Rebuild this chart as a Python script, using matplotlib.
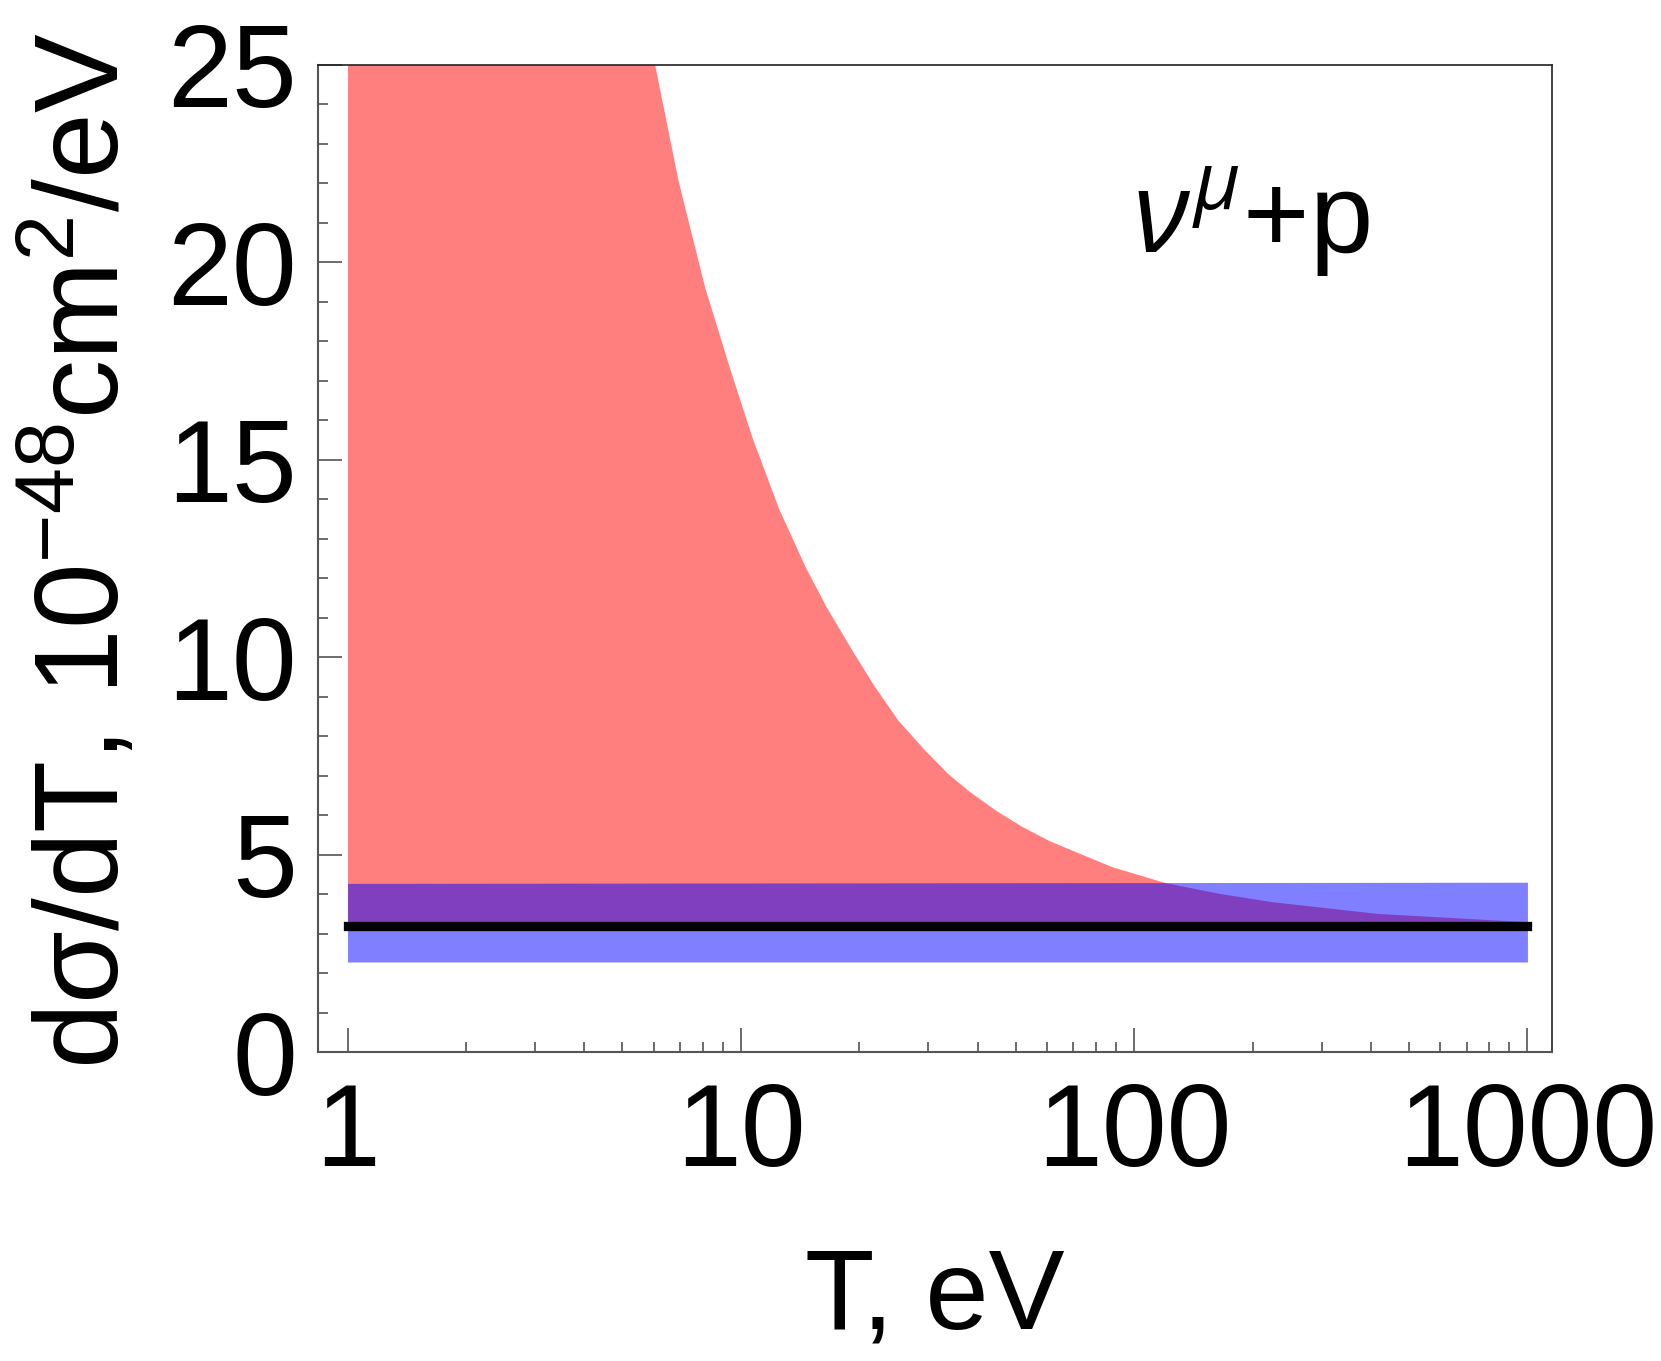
import numpy as np
import matplotlib
matplotlib.use("Agg")
import matplotlib.pyplot as plt
from matplotlib.ticker import FixedLocator, NullFormatter

plt.rcParams['font.family'] = ['Liberation Sans', 'DejaVu Sans']
plt.rcParams['mathtext.fontset'] = 'custom'
plt.rcParams['mathtext.rm'] = 'Liberation Sans'
plt.rcParams['mathtext.it'] = 'Open Sans:italic'
plt.rcParams['mathtext.bf'] = 'Liberation Sans:bold'

# ---- data ----
# upper edge of the red (theory uncertainty) band, T in eV
red_T = [1.0, 6.04, 6.92, 8.08, 9.32, 10.68, 12.48, 14.57, 16.49, 19.26, 21.8,
         25.1, 29.2, 33.6, 38.1, 44.5, 51.9, 60.6, 73.1, 88.0, 120, 164, 223,
         415, 1000]
red_hi = [25.0, 25.0, 22.08, 19.39, 17.38, 15.56, 13.76, 12.29, 11.27, 10.14,
          9.28, 8.40, 7.67, 7.05, 6.60, 6.12, 5.71, 5.36, 5.02, 4.69, 4.29,
          4.02, 3.81, 3.51, 3.30]
central_value = 3.19          # black line (central prediction)
central_T = [1.0, 1000.0]
central_y = [3.19, 3.19]
blue_T = [1.0, 1000.0]        # blue band
blue_lo = [2.28, 2.28]
blue_hi = [4.27, 4.30]

xticks = [1, 10, 100, 1000]
xticklabels = ['1', '10', '100', '1000']
xminor = [2, 3, 4, 5, 6, 7, 8, 9, 20, 30, 40, 50, 60, 70, 80, 90,
          200, 300, 400, 500, 600, 700, 800, 900]
yticks = [0, 5, 10, 15, 20, 25]
yticklabels = ['0', '5', '10', '15', '20', '25']
yminor = list(range(0, 26))

# ---- figure ----
fig = plt.figure(figsize=(16.61, 13.61), dpi=100)
ax = fig.add_axes([0.1913, 0.2270, 0.7431, 0.7255])

ax.fill_between(red_T, central_value, red_hi, color='red', alpha=0.5, lw=0)
ax.fill_between(blue_T, blue_lo, blue_hi, color='blue', alpha=0.5, lw=0)
ax.plot(central_T, central_y, color='black', lw=6.7, solid_capstyle='projecting')

ax.set_xscale('log')
ax.set_xlim(0.84, 1155)
ax.set_ylim(0, 25)

ax.xaxis.set_major_locator(FixedLocator(xticks))
ax.set_xticklabels(xticklabels)
ax.xaxis.set_minor_locator(FixedLocator(xminor))
ax.xaxis.set_minor_formatter(NullFormatter())
ax.yaxis.set_major_locator(FixedLocator(yticks))
ax.set_yticklabels(yticklabels)
ax.yaxis.set_minor_locator(FixedLocator(yminor))

tc = '#444444'
ax.tick_params(which='both', direction='in', top=False, right=False, color=tc,
               width=1.1, labelsize=84)
ax.tick_params(which='major', length=17.5)
ax.tick_params(which='minor', length=7)
ax.tick_params(axis='x', which='major', pad=21)
ax.tick_params(axis='y', which='major', pad=15)

for s in ['left', 'bottom']:
    ax.spines[s].set_color('#555555')
    ax.spines[s].set_linewidth(1.5)
for s in ['top', 'right']:
    ax.spines[s].set_color('#222222')
    ax.spines[s].set_linewidth(1.2)

ax.set_xlabel('T, eV', fontsize=82, va='baseline')
ax.xaxis.set_label_coords(0.5, -0.2803)
ax.set_ylabel('dσ/dT, 10$^{-48}$cm$^{2}$/eV', fontsize=85, va='baseline')
ax.yaxis.set_label_coords(-0.1614, 0.508)

ax.text(0.660, 0.809, r'$\nu^{\mu}$+p', transform=ax.transAxes, fontsize=82,
        ha='left', va='baseline')

fig.savefig('out.png', dpi=100, facecolor='white')
